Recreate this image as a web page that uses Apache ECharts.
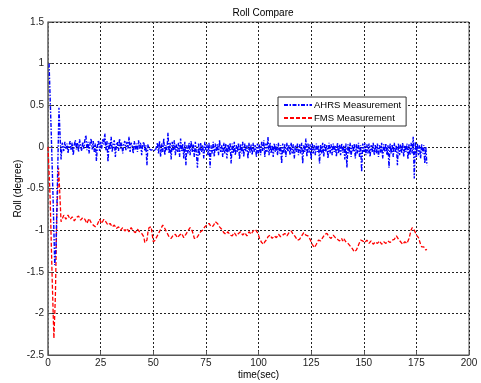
<!DOCTYPE html>
<html>
<head>
<meta charset="utf-8">
<script src="https://cdn.jsdelivr.net/npm/echarts@6/dist/echarts.min.js"></script>
<style>
  html, body { margin: 0; padding: 0; background: #fff; }
  #view { width: 481px; height: 383px; }
</style>
</head>
<body>
<div id="view"></div>
<script>
// tick labels
var xTicks = [0, 25, 50, 75, 100, 125, 150, 175, 200];
var yTicks = [-2.5, -2, -1.5, -1, -0.5, 0, 0.5, 1, 1.5];

// AHRS: start transient [t, roll]
var ahrsStart = [[0.5, 1.0], [1.5, 0.2], [2.5, -0.7], [3.2, -1.42], [3.8, -1.2], [4.6, -0.3],
    [5.2, 0.47], [5.8, 0.1], [6.2, -0.15], [6.8, 0.05]];
// AHRS: from t=7 s, one value every 0.5 s
var ahrsT0 = 7, ahrsDt = 0.5;
var ahrsVals = [
    0.03, -0.05, 0.06, -0.02, 0.04, -0.08, 0.02, 0.07, -0.04, 0.05, -0.1, 0.03, 0.08, -0.03, 0.05, -0.06, 0.09, 0.01, -0.05, 0.06,
    -0.02, 0.08, 0.14, -0.04, 0.06, -0.08, 0.05, 0.1, -0.03, 0.07, -0.06, 0.04, -0.17, 0.02, 0.08, -0.05, 0.06, -0.02, 0.09, 0.03,
    0.16, -0.04, 0.07, -0.18, 0.05, -0.03, 0.12, -0.06, 0.04, 0.08, -0.12, 0.03, 0.06, -0.05, 0.1, -0.02, 0.05, -0.08, 0.04, 0.07,
    -0.04, 0.06, -0.02, 0.12, -0.06, 0.05, 0.01, -0.08, 0.07, -0.03, 0.04, -0.06, 0.08, -0.02, 0.05, -0.1, 0.03, 0.06, -0.05, 0.02,
    -0.22, 0.03, -0.02, -0.03, -0.04, -0.05, -0.03, -0.04, -0.05, -0.04, 0.05, -0.08, 0.07, -0.12, 0.04, -0.06, 0.1, -0.1, 0.02, -0.04,
    0.17, -0.08, 0.05, -0.15, 0.06, -0.04, 0.08, -0.1, 0.03, -0.06, 0.05, -0.12, 0.1, -0.05, 0.04, -0.14, 0.06, -0.22, 0.02, -0.08,
    0.05, -0.1, 0.07, -0.06, 0.03, -0.12, 0.06, -0.08, -0.25, 0.04, -0.1, 0.05, -0.06, 0.02, -0.14, 0.06, -0.04, 0.03, -0.1, 0.05,
    -0.25, 0.02, -0.08, 0.06, -0.12, 0.04, -0.05, 0.03, -0.1, 0.08, -0.06, 0.02, -0.12, 0.05, -0.08, 0.04, -0.14, 0.03, -0.06, 0.05,
    -0.2, 0.04, -0.08, 0.06, -0.1, 0.02, -0.06, 0.05, -0.15, 0.03, -0.08, 0.06, -0.12, 0.04, -0.05, 0.02, -0.14, 0.05, -0.07, 0.03,
    -0.1, 0.05, -0.06, 0.02, -0.12, 0.04, -0.08, 0.03, -0.1, 0.06, -0.05, 0.08, -0.12, 0.04, -0.06, 0.12, -0.1, 0.05, -0.08, 0.02,
    -0.12, 0.04, -0.06, 0.03, -0.1, 0.05, -0.08, 0.02, -0.2, 0.04, -0.07, 0.03, -0.12, 0.05, -0.06, 0.02, -0.1, 0.05, -0.08, 0.03,
    -0.14, 0.02, -0.06, 0.04, -0.1, 0.03, -0.08, 0.05, -0.2, 0.02, -0.06, 0.1, -0.12, 0.04, -0.07, 0.03, -0.15, 0.05, -0.08, 0.02,
    -0.1, 0.04, -0.06, 0.02, -0.2, 0.03, -0.08, 0.05, -0.12, 0.04, -0.06, 0.02, -0.14, 0.05, -0.08, 0.03, -0.1, 0.04, -0.06, 0.02,
    -0.12, 0.05, -0.08, 0.03, -0.1, 0.04, -0.07, 0.02, -0.15, 0.04, -0.25, 0.03, -0.08, 0.05, -0.12, 0.02, -0.06, 0.04, -0.14, 0.03,
    -0.08, 0.05, -0.12, 0.02, -0.3, 0.04, -0.06, 0.05, -0.1, 0.03, -0.08, 0.04, -0.12, 0.02, -0.06, 0.05, -0.1, 0.03, -0.08, 0.04,
    -0.12, 0.02, -0.07, 0.05, -0.14, 0.03, -0.06, 0.04, -0.1, 0.02, -0.25, 0.04, -0.08, 0.03, -0.12, 0.05, -0.06, 0.02, -0.22, 0.04,
    -0.1, 0.03, -0.08, 0.05, -0.12, 0.02, -0.06, 0.04, -0.15, 0.03, -0.1, 0.05, -0.08, 0.12, -0.38, 0.06, -0.12, 0.04, -0.1, 0.02,
    -0.14, 0.03, -0.08, 0.02, -0.2, 0.0, -0.22
];

// FMS: start transient [t, roll]
var fmsStart = [[0, 0], [1, -0.6], [2, -1.6], [2.8, -2.3], [3.5, -1.8], [4.2, -0.8], [5, -0.25],
    [5.5, -0.5], [6.2, -0.9]];
// FMS: from t=7 s, one value every 0.5 s
var fmsT0 = 7, fmsDt = 0.5;
var fmsVals = [
    -0.85, -0.82, -0.83, -0.87, -0.86, -0.82, -0.84, -0.87, -0.88, -0.84, -0.86, -0.89, -0.9, -0.85, -0.87, -0.83, -0.85, -0.88, -0.89, -0.85,
    -0.84, -0.87, -0.88, -0.92, -0.91, -0.86, -0.87, -0.91, -0.9, -0.94, -0.93, -0.96, -0.97, -0.93, -0.9, -0.87, -0.88, -0.92, -0.9, -0.87,
    -0.87, -0.9, -0.91, -0.94, -0.95, -0.92, -0.93, -0.96, -0.97, -0.94, -0.95, -0.98, -0.99, -0.96, -0.97, -1.0, -1.0, -0.97, -0.98, -1.01,
    -1.0, -0.98, -0.99, -1.02, -1.01, -0.97, -0.98, -1.01, -1.0, -1.03, -1.02, -0.99, -0.99, -1.02, -1.01, -1.04, -1.03, -1.08, -1.15, -1.17,
    -1.12, -1.02, -0.97, -0.99, -0.96, -1.05, -1.14, -1.15, -1.12, -1.09, -1.08, -1.04, -1.02, -0.99, -0.97, -0.94, -0.95, -0.98, -0.99, -1.03,
    -1.05, -1.08, -1.07, -1.1, -1.1, -1.06, -1.08, -1.05, -1.06, -1.09, -1.1, -1.06, -1.07, -1.04, -1.05, -1.09, -1.08, -1.05, -1.04, -1.01,
    -1.0, -0.97, -0.98, -1.01, -1.05, -1.1, -1.12, -1.1, -1.08, -1.06, -1.05, -1.02, -1.03, -1.0, -0.99, -0.96, -0.97, -0.94, -0.95, -0.92,
    -0.93, -0.96, -0.98, -0.95, -0.94, -0.9, -0.9, -0.92, -0.93, -0.96, -0.97, -0.99, -1.0, -1.03, -1.02, -1.05, -1.04, -1.02, -1.03, -1.06,
    -1.05, -1.07, -1.06, -1.03, -1.04, -1.07, -1.07, -1.04, -1.05, -1.02, -1.03, -1.06, -1.06, -1.03, -1.04, -1.07, -1.05, -1.02, -1.02, -1.05,
    -1.04, -1.01, -1.01, -0.99, -1.0, -1.03, -1.06, -1.1, -1.12, -1.15, -1.16, -1.17, -1.14, -1.12, -1.11, -1.08, -1.09, -1.06, -1.07, -1.1,
    -1.1, -1.07, -1.06, -1.09, -1.08, -1.05, -1.05, -1.08, -1.09, -1.06, -1.07, -1.04, -1.04, -1.07, -1.06, -1.03, -1.03, -1.01, -1.02, -1.05,
    -1.06, -1.08, -1.1, -1.12, -1.13, -1.11, -1.09, -1.07, -1.06, -1.03, -1.04, -1.06, -1.05, -1.07, -1.08, -1.11, -1.14, -1.17, -1.19, -1.21,
    -1.2, -1.17, -1.15, -1.12, -1.1, -1.13, -1.12, -1.09, -1.08, -1.05, -1.06, -1.04, -1.05, -1.08, -1.07, -1.1, -1.09, -1.06, -1.06, -1.09,
    -1.08, -1.11, -1.1, -1.13, -1.12, -1.1, -1.13, -1.1, -1.11, -1.14, -1.14, -1.16, -1.17, -1.19, -1.2, -1.22, -1.23, -1.26, -1.25, -1.24,
    -1.22, -1.18, -1.15, -1.12, -1.1, -1.13, -1.12, -1.15, -1.14, -1.12, -1.13, -1.16, -1.15, -1.13, -1.14, -1.17, -1.16, -1.14, -1.13, -1.16,
    -1.15, -1.13, -1.14, -1.17, -1.16, -1.14, -1.13, -1.16, -1.15, -1.13, -1.12, -1.15, -1.14, -1.12, -1.13, -1.11, -1.1, -1.07, -1.08, -1.11,
    -1.12, -1.14, -1.15, -1.17, -1.16, -1.14, -1.13, -1.16, -1.15, -1.1, -1.05, -1.0, -0.97, -0.96, -1.0, -1.03, -1.06, -1.08, -1.09, -1.13,
    -1.17, -1.2, -1.22, -1.2, -1.21, -1.24, -1.23
];

function toPairs(start, t0, dt, vals) {
    var out = start.slice();
    for (var i = 0; i < vals.length; i++) {
        out.push([t0 + i * dt, vals[i]]);
    }
    return out;
}

var myChart = echarts.init(document.getElementById('view'));
var font = 'Liberation Sans, Arial, sans-serif';
var gridLine = {show: true, lineStyle: {color: '#222', type: [2, 2], width: 1}};

var option = {
    backgroundColor: '#fff',
    animation: false,
    textStyle: {fontFamily: font},
    title: {
        text: 'Roll Compare',
        left: 258, top: 3, textAlign: 'center',
        textStyle: {fontSize: 10, fontWeight: 'normal', color: '#000'}
    },
    grid: {
        left: 48, right: 12, top: 22, bottom: 28,
        outerBoundsMode: 'none',   // keep the plot box fixed
        show: true, borderColor: '#555', borderWidth: 1
    },
    legend: {
        orient: 'vertical',
        left: 278, top: 97,
        padding: [3, 5, 3, 5],
        itemGap: 3,
        itemWidth: 28, itemHeight: 10,
        backgroundColor: '#fff',
        borderColor: '#333', borderWidth: 1,
        itemStyle: {opacity: 0},   // plain line icon, no dot
        textStyle: {fontSize: 9.5, color: '#000', padding: [0, 0, 0, -3]},
        data: ['AHRS Measurement', 'FMS Measurement']
    },
    xAxis: {
        type: 'value',
        min: 0, max: 200, interval: 25,
        name: 'time(sec)', nameLocation: 'middle', nameGap: 15,
        nameMoveOverlap: false,
        nameTextStyle: {fontSize: 10, color: '#000'},
        axisLine: {show: true, onZero: false, lineStyle: {color: '#555'}},
        axisTick: {show: true, inside: true, length: 4, lineStyle: {color: '#555'}},
        axisLabel: {fontSize: 10, color: '#222', margin: 3},
        splitLine: gridLine
    },
    yAxis: {
        type: 'value',
        min: -2.5, max: 1.5, interval: 0.5,
        name: 'Roll (degree)', nameLocation: 'middle', nameGap: 25,
        nameMoveOverlap: false,
        nameTextStyle: {fontSize: 10, color: '#000'},
        axisLine: {show: true, lineStyle: {color: '#777', width: 1.5}},
        axisTick: {show: true, inside: true, length: 4, lineStyle: {color: '#555'}},
        axisLabel: {fontSize: 10, color: '#222', margin: 4},
        splitLine: gridLine
    },
    series: [{
        name: 'AHRS Measurement',
        type: 'line',
        symbol: 'none',
        data: toPairs(ahrsStart, ahrsT0, ahrsDt, ahrsVals),
        lineStyle: {color: '#0000ff', width: 1.4, type: [4, 1.5, 1.5, 1.5]},
        itemStyle: {color: '#0000ff'},
        z: 3
    }, {
        name: 'FMS Measurement',
        type: 'line',
        symbol: 'none',
        data: toPairs(fmsStart, fmsT0, fmsDt, fmsVals),
        lineStyle: {color: '#ff0000', width: 1.3, type: [4, 2]},
        itemStyle: {color: '#ff0000'},
        z: 2
    }]
};
myChart.setOption(option);
</script>
</body>
</html>
